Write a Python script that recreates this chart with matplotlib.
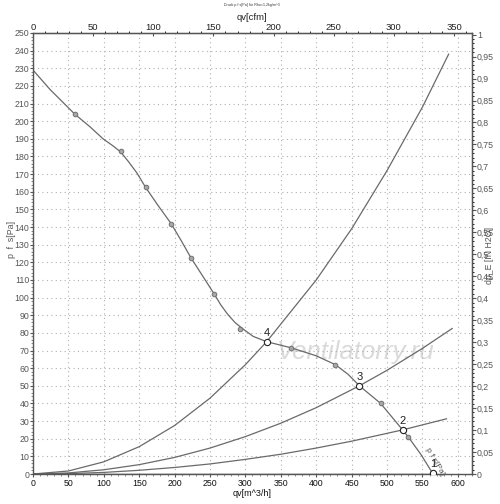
import matplotlib.pyplot as plt
from matplotlib.ticker import MultipleLocator, FuncFormatter

plt.rcParams['font.family'] = ['Liberation Sans', 'DejaVu Sans']

# fan curve p_fs [Pa] over qv [m^3/h]
fan_q = [0, 24, 59, 80, 99, 113, 124, 135, 147, 159, 177, 195, 209, 223, 240, 256, 265, 275, 285, 294,
         311, 330, 365, 400, 427, 445, 461, 491, 522, 530, 548, 565]
fan_p = [229, 218, 204, 197, 190, 186, 182.5, 177, 170.5, 162.5, 152, 142, 132.5, 122.6, 112, 102,
         96, 90.5, 86, 83, 78, 75, 71.5, 67, 62, 56.5, 50, 40, 25, 21, 11, 0]

# measured points on the fan curve
mark_q = [59, 124, 159, 195, 223, 256, 292, 365, 427, 491, 530]
mark_p = [204, 183, 162.5, 142, 122.6, 102, 82, 71.5, 62, 40, 21]

# operating points
op_q = [565, 522, 461, 330]
op_p = [0.5, 25, 50, 75]
op_lbl = ['1', '2', '3', '4']

# system curves
sys4_q = [0, 50, 100, 150, 200, 250, 300, 330, 400, 450, 500, 550, 587]
sys4_p = [0, 1.7, 6.9, 15.5, 27.5, 43, 62, 75, 110, 139, 172, 208, 238]
sys3_q = [0, 50, 100, 150, 200, 250, 300, 350, 400, 461, 500, 550, 592]
sys3_p = [0, 0.6, 2.4, 5.3, 9.4, 14.7, 21.2, 28.8, 37.6, 50, 58.8, 71.2, 82.5]
sys2_q = [0, 50, 100, 150, 200, 250, 300, 350, 400, 450, 522, 584]
sys2_p = [0, 0.23, 0.9, 2.1, 3.7, 5.7, 8.3, 11.2, 14.7, 18.6, 25, 31.3]
sys1_q = [0, 565]
sys1_p = [0, 0]

CFM = 1.699
INH2O = 249.089
W, H = 500, 504

fig = plt.figure(figsize=(5, 5.04), dpi=100)
ax = fig.add_axes([33 / W, 30 / H, 439 / W, 441 / H])

line_c = '#6a6a6a'
ax.plot(sys4_q, sys4_p, color=line_c, lw=0.9)
ax.plot(sys3_q, sys3_p, color=line_c, lw=0.9)
ax.plot(sys2_q, sys2_p, color=line_c, lw=0.9)
ax.plot(sys1_q, sys1_p, color='#444444', lw=1.0)
ax.plot(fan_q, fan_p, color=line_c, lw=0.9)
ax.plot(mark_q, mark_p, 'o', ms=3.3, mfc='#a8a8a8', mec='#707070', mew=0.7, ls='none')
ax.plot(op_q, op_p, 'o', ms=4.5, mfc='white', mec='#222222', mew=0.8, ls='none', zorder=5)
for q, p, t in zip(op_q, op_p, op_lbl):
    ax.text(q, p + 2.2, t, fontsize=8, ha='center', va='bottom', color='#222222')

ax.text(567, 7, 'p f s[Pa]', rotation=-60, fontsize=6, color='#555555',
        ha='center', va='center')
ax.text(456, 69, 'Ventilatorry.ru', fontsize=18.5, style='italic', color='#dadada',
        ha='center', va='center', zorder=0)

ax.set_xlim(0, 620)
ax.set_ylim(0, 250)
ax.xaxis.set_major_locator(MultipleLocator(50))
ax.xaxis.set_minor_locator(MultipleLocator(10))
ax.yaxis.set_major_locator(MultipleLocator(10))
ax.yaxis.set_minor_locator(MultipleLocator(2))
ax.grid(True, which='major', ls=(0, (1, 3)), color='#b0b0b0', lw=0.8)
ax.tick_params(axis='y', labelsize=6.3, colors='#555555', length=2, width=0.8, pad=0.8)
ax.tick_params(axis='x', labelsize=6.3, colors='#555555', labelcolor='#111111',
               length=2, width=0.8, pad=1.5)
ax.tick_params(which='minor', length=1.2, width=0.6, colors='#777777')
for s in ax.spines.values():
    s.set_color('#555555')
    s.set_linewidth(1.0)

top = ax.secondary_xaxis('top', functions=(lambda q: q / CFM, lambda c: c * CFM))
top.xaxis.set_major_locator(MultipleLocator(50))
top.xaxis.set_minor_locator(MultipleLocator(10))
top.tick_params(labelsize=6.8, colors='#555555', labelcolor='#222222', length=2,
                direction='in', pad=1)
top.tick_params(which='minor', length=1.2, width=0.6)

right = ax.secondary_yaxis('right', functions=(lambda p: p / INH2O, lambda h: h * INH2O))
right.yaxis.set_major_locator(MultipleLocator(0.05))
right.yaxis.set_minor_locator(MultipleLocator(0.01))
right.yaxis.set_major_formatter(FuncFormatter(lambda v, pos: ('%g' % round(v, 2)).replace('.', ',')))
right.tick_params(labelsize=6.3, colors='#555555', length=3, pad=0.5)
right.tick_params(which='minor', length=1.2, width=0.6)

# axis labels
fig.text(252 / W, 1 - 493 / H, 'qv[m^3/h]', fontsize=6.5, color='#111111', ha='center', va='center')
fig.text(252 / W, 1 - 18 / H, 'qv[cfm]', fontsize=6.8, color='#222222', ha='center', va='center')
fig.text(12 / W, 1 - 240 / H, 'p  f  s[Pa]', fontsize=6.3, color='#555555', rotation=90,
         ha='center', va='center')
fig.text(489 / W, 1 - 255 / H, 'dp_E [IN H2O]', fontsize=6.3, color='#555555', rotation=90,
         ha='center', va='center')
fig.text(252 / W, 1 - 5 / H, 'Druck p f s[Pa] für Rho=1,2kg/m^3', fontsize=2.6, ha='center',
         va='center', color='#333333')

fig.savefig('out.png', dpi=100)
